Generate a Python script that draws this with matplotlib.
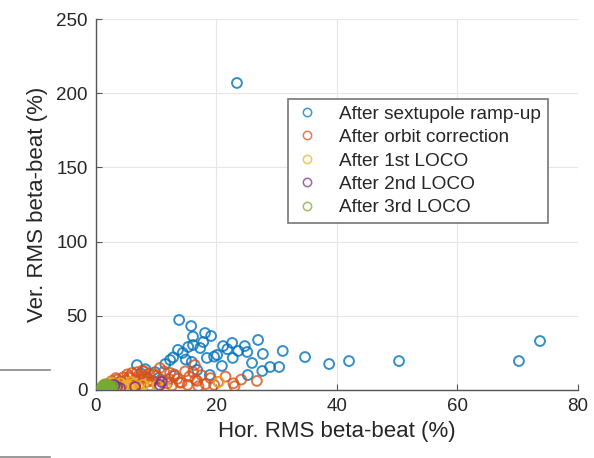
import numpy as np
import matplotlib
matplotlib.use('Agg')
import matplotlib.pyplot as plt
from matplotlib.lines import Line2D

plt.rcParams['font.family'] = ['Liberation Sans', 'DejaVu Sans']

# After sextupole ramp-up
bx = [23.4, 13.8, 15.8, 18.1, 19.1, 17.8, 16.1, 17.3, 16.8, 15.9,
      13.6, 14.4, 15.3, 12.3, 6.8, 18.4, 20.1, 20.9, 21.1, 22.6,
      22.7, 23.6, 24.7, 25.1, 25.9, 25.2, 26.9, 27.7, 27.6, 28.9,
      30.4, 31.0, 34.7, 38.7, 42.0, 50.3, 70.2, 73.7, 18.9, 16.1,
      11.5, 9.8, 8.2, 12.8, 14.9, 19.6, 21.8, 13.0, 10.4, 7.5]
by = [206.9, 47.2, 43.1, 38.4, 36.4, 32.3, 30.3, 28.3, 13.5, 18.9,
      27.0, 25.0, 29.0, 20.2, 16.8, 21.6, 23.6, 16.2, 29.6, 31.7,
      21.6, 26.3, 29.6, 25.6, 18.2, 10.1, 33.7, 24.3, 12.8, 15.5,
      15.5, 26.3, 22.2, 17.5, 19.5, 19.5, 19.5, 33.0, 10.1, 36.0,
      17.5, 12.0, 14.0, 22.0, 20.5, 22.5, 27.5, 9.5, 8.0, 11.0]

# After orbit correction
ox = [26.7, 16.8, 16.4, 16.1, 15.5, 14.2, 13.0, 12.1, 11.3, 10.6,
      10.0, 9.4, 8.8, 8.2, 7.7, 7.1, 6.6, 6.0, 5.5, 5.0,
      4.5, 4.0, 3.5, 3.0, 2.6, 2.2, 1.8, 9.0, 8.5, 7.9,
      7.3, 6.8, 6.2, 5.7, 11.8, 12.6, 13.5, 14.8, 17.5, 18.2,
      19.0, 20.3, 21.5, 22.8, 24.1, 17.0, 15.2, 10.3, 11.0, 9.7,
      8.0, 6.5, 5.2, 4.2, 3.3, 12.3, 13.9, 16.5, 19.6, 23.0]
oy = [6.1, 6.1, 16.8, 12.0, 9.0, 5.0, 10.5, 7.5, 12.5, 14.8,
      9.5, 6.0, 11.0, 8.0, 13.0, 10.0, 7.0, 11.5, 9.0, 6.5,
      8.5, 5.5, 7.0, 4.5, 6.0, 3.5, 4.0, 3.0, 5.5, 9.5,
      4.0, 12.0, 2.5, 8.0, 4.5, 3.0, 7.5, 12.5, 10.0, 4.0,
      8.0, 5.5, 9.0, 4.5, 7.0, 2.5, 3.5, 2.0, 6.5, 10.5,
      12.5, 3.0, 10.5, 2.0, 8.0, 11.5, 5.0, 7.0, 3.5, 2.5]

# After 1st LOCO
yx = [20.4, 1.2, 1.5, 1.8, 2.1, 2.4, 2.7, 3.0, 3.3, 3.7,
      4.1, 4.5, 5.0, 5.6, 6.2, 7.0, 7.8, 1.4, 2.0, 2.6,
      3.2, 3.9, 4.8, 5.9, 8.8, 10.2, 11.5, 1.6, 2.3, 2.9]
yy = [5.4, 1.0, 2.5, 1.5, 3.0, 2.0, 4.0, 1.2, 3.5, 2.2,
      4.5, 1.8, 3.0, 2.5, 4.0, 1.5, 3.5, 3.8, 0.8, 5.0,
      0.6, 1.0, 0.9, 5.5, 2.0, 3.0, 1.5, 2.0, 2.8, 1.8]

# After 2nd LOCO
px = [1.1, 1.3, 1.5, 1.7, 1.9, 2.1, 2.3, 2.5, 2.8, 3.1,
      3.5, 4.0, 10.6, 10.9, 1.4, 1.8, 2.2, 2.6, 3.0, 6.5]
py = [1.5, 2.2, 1.0, 2.8, 1.8, 3.0, 1.3, 2.4, 1.6, 2.9,
      2.0, 1.2, 3.4, 5.4, 3.2, 0.9, 2.5, 1.1, 3.5, 2.0]

# After 3rd LOCO
gx = [1.0, 1.1, 1.2, 1.3, 1.4, 1.5, 1.6, 1.7, 1.8, 1.9,
      2.0, 2.1, 2.2, 2.4, 2.6, 1.2, 1.4, 1.6, 1.8, 2.0,
      2.3, 1.5, 1.7, 1.9, 2.8]
gy = [1.5, 2.5, 1.0, 3.0, 2.0, 1.2, 2.8, 1.6, 2.2, 3.2,
      1.4, 2.6, 1.8, 2.2, 1.6, 2.0, 3.4, 3.6, 1.0, 2.9,
      0.9, 2.4, 2.0, 1.3, 2.5]

labels = ['After sextupole ramp-up', 'After orbit correction', 'After 1st LOCO',
          'After 2nd LOCO', 'After 3rd LOCO']
colors = ['#0072BD', '#D95319', '#EDB120', '#7E2F8E', '#77AC30']
series = [(bx, by), (ox, oy), (yx, yy), (px, py), (gx, gy)]

txt = '#262626'
fig = plt.figure(figsize=(5.94, 4.58), dpi=100)
ax = fig.add_axes([0.1616, 0.1485, 0.8114, 0.81])

for (x, y), c, lab in zip(series, colors, labels):
    ax.scatter(x, y, s=50, facecolors='none', edgecolors=c, linewidths=1.4,
               alpha=0.8, label=lab, zorder=3)

ax.set_xlim(0, 80)
ax.set_ylim(0, 250)
ax.set_xticks([0, 20, 40, 60, 80])
ax.set_yticks([0, 50, 100, 150, 200, 250])
ax.grid(True, color='#e6e6e6', linewidth=0.8, zorder=0)
ax.set_axisbelow(True)
for s in ['top', 'right']:
    ax.spines[s].set_visible(False)
for s in ['left', 'bottom']:
    ax.spines[s].set_color('#555555')
    ax.spines[s].set_linewidth(1.0)
ax.tick_params(direction='in', length=4, colors='#555555', labelcolor=txt,
               labelsize=13.5, pad=6)
ax.set_xlabel('Hor. RMS beta-beat (%)', fontsize=16, color=txt, labelpad=4)
ax.set_ylabel('Ver. RMS beta-beat (%)', fontsize=16, color=txt, labelpad=6)

handles = [Line2D([], [], marker='o', linestyle='none', markerfacecolor='none',
                  markeredgecolor=c, markersize=6, markeredgewidth=1.1, alpha=0.75)
           for c in colors]
leg = ax.legend(handles, labels, loc='upper left', bbox_to_anchor=(0.398, 0.785),
                fontsize=13.7, frameon=True, fancybox=False, framealpha=1,
                edgecolor='#777777', handlelength=1.35, handletextpad=1.0,
                labelspacing=0.32, borderpad=0.35, borderaxespad=0)
leg.get_frame().set_linewidth(1.2)
for t in leg.get_texts():
    t.set_color(txt)

# page edge artefacts at the left
fig.add_artist(Line2D([0.0, 0.085], [0.192, 0.192], color='#888888', linewidth=1.2))
fig.add_artist(Line2D([0.0, 0.085], [0.003, 0.003], color='#888888', linewidth=1.2))

fig.savefig('out.png', dpi=100)
